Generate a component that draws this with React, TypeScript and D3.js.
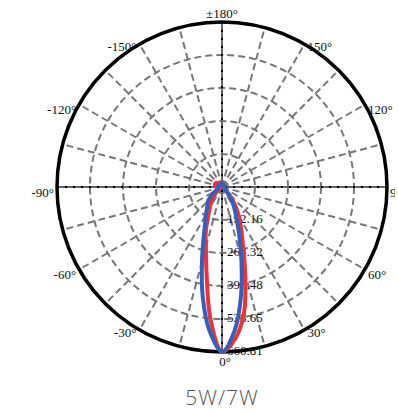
import React from "react";
import * as d3 from "d3";

// angles -180..180 step 5 (73 entries, 0° points down)
const angles = d3.range(-180, 181, 5);
const redNeg = [
  10, 10, 10, 11, 12, 13, 14, 16, 18, 22,
  25, 28, 30, 30, 30, 29, 28, 26, 24, 22,
  20, 18, 16, 14, 14, 18, 25, 40, 58, 75,
  100, 130, 190, 249, 355, 530
];
const redPeak = 660;
const redPos = [
  610, 510, 358, 245, 180, 135, 95, 60, 34, 20,
  12, 8, 8, 8, 8, 8, 8, 8, 8, 8,
  8, 8, 8, 8, 8, 8, 8, 8, 8, 9,
  9, 10, 10, 10, 10, 10
];
const blueNeg = [
  12, 12, 12, 12, 12, 12, 12, 12, 12, 12,
  12, 12, 12, 13, 14, 15, 15, 15, 15, 15,
  15, 15, 15, 18, 25, 40, 60, 78, 90, 105,
  130, 160, 215, 310, 445, 577
];
const bluePeak = 660;
const bluePos = [
  578, 440, 300, 200, 135, 100, 70, 45, 30, 20,
  15, 12, 10, 10, 10, 10, 10, 10, 10, 10,
  10, 10, 10, 10, 10, 10, 10, 10, 10, 10,
  10, 10, 10, 10, 11, 12
];
const ringTicks = [132.16, 264.32, 396.48, 528.65, 660.81];
const angleLabels = [-150, -120, -90, -60, -30, 0, 30, 60, 90, 120, 150, 180];
const title = "5W/7W";

export default function App() {
  const W = 395, H = 413;
  const cx = 222, cy = 187, R = 165;
  const r = d3.scaleLinear().domain([0, 660.81]).range([0, R]);
  const toRad = (d: number) => (d * Math.PI) / 180;
  const pt = (deg: number, rr: number) => [cx + rr * Math.sin(toRad(deg)), cy + rr * Math.cos(toRad(deg))];

  const red = [...redNeg, redPeak, ...redPos];
  const blue = [...blueNeg, bluePeak, ...bluePos];

  const line = d3
    .lineRadial<number>()
    .angle((_, i) => Math.PI - toRad(angles[i]))
    .radius((v) => r(v))
    .curve(d3.curveCatmullRomClosed);

  const redD = line(red.slice(0, angles.length - 1));
  const blueD = line(blue.slice(0, angles.length - 1));

  const spokes = d3.range(0, 360, 15).filter((a) => a % 90 !== 0);
  const gridColor = "#777";
  const fs = 13;

  return (
    <svg width={W} height={H} style={{ position: "absolute", left: 0, top: 0, overflow: "hidden" }}>
      <rect width={W} height={H} fill="#fff" />
      {spokes.map((a) => {
        const [x, y] = pt(a, R);
        return (
          <line key={a} x1={cx} y1={cy} x2={x} y2={y} stroke={gridColor} strokeWidth={2} strokeDasharray="7,4" />
        );
      })}
      {ringTicks.slice(0, -1).map((t) => (
        <circle key={t} cx={cx} cy={cy} r={r(t)} fill="none" stroke={gridColor} strokeWidth={2} strokeDasharray="7,4" />
      ))}
      {[0, 90].map((a) => {
        const [x1, y1] = pt(a, R);
        const [x2, y2] = pt(a + 180, R);
        return (
          <g key={a}>
            <line x1={x1} y1={y1} x2={x2} y2={y2} stroke="#666" strokeWidth={2} />
            <line x1={x1} y1={y1} x2={x2} y2={y2} stroke="#000" strokeWidth={2} strokeDasharray="2,6" />
          </g>
        );
      })}
      <circle cx={cx} cy={cy} r={R} fill="none" stroke="#000" strokeWidth={3.5} />
      {ringTicks.map((t) => (
        <text key={t} x={cx + 5} y={cy + r(t) + 3} fontFamily="'Liberation Serif', serif" fontSize={fs} fill="#111">
          {t.toFixed(2)}
        </text>
      ))}
      {angleLabels.map((a) => {
        const [px, py] = pt(a, R);
        const lbl = a === 180 ? "±180°" : `${a}°`;
        let anchor: "start" | "end" | "middle" = a > 0 ? "start" : "end";
        let x = px + (a > 0 ? 3 : -3);
        let y = py + 6 * Math.abs(Math.sin(toRad(a))) + 4;
        if (a === 180) {
          anchor = "middle";
          x = px;
          y = py - 4;
        }
        if (a === 0) {
          anchor = "middle";
          x = px + 3;
          y = py + 14;
        }
        return (
          <text key={a} x={x} y={y} textAnchor={anchor} fontFamily="'Liberation Serif', serif" fontSize={fs} fill="#111">
            {lbl}
          </text>
        );
      })}
      <g transform={`translate(${cx},${cy})`}>
        <path d={redD || ""} fill="none" stroke="#ee3238" strokeWidth={4} strokeLinejoin="round" />
        <path d={blueD || ""} fill="none" stroke="#3460bd" strokeWidth={4} strokeLinejoin="round" />
      </g>
      <text x={cx} y={405} textAnchor="middle" fontFamily="'Open Sans', sans-serif" fontWeight={300} fontSize={21} letterSpacing={1} fill="#555">
        {title}
      </text>
    </svg>
  );
}
